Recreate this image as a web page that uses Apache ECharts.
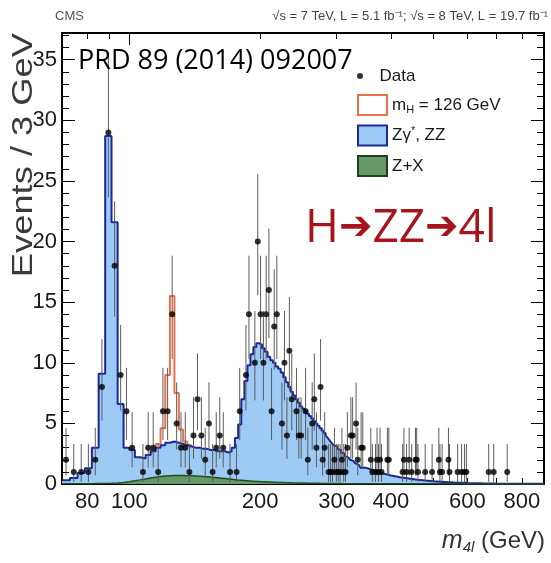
<!DOCTYPE html>
<html>
<head>
<meta charset="utf-8"/>
<title>m4l</title>
<style>
html, body { margin: 0; padding: 0; background: #fff; }
#chart { width: 551px; height: 563px; }
</style>
</head>
<body>
<div id="chart"></div>
<script src="https://cdn.jsdelivr.net/npm/echarts@6/dist/echarts.min.js"></script>
<script>
// 3 GeV bins starting at 70 GeV
var binStart = 70, binWidth = 3;
var xLow = 70, xHigh = 900;

// blue line: Zgamma*, ZZ (+ Z+X) per 3 GeV bin, 70-340 GeV
var zzTop = [
  0.3, 0.5, 0.9, 1.3, 3.0, 9.1, 28.7, 21.6, 6.6, 3.0,
  2.8, 2.2, 2.1, 2.4, 2.7, 3.0, 3.2, 3.4, 3.5, 3.4,
  3.3, 3.2, 3.1, 3.0, 3.0, 2.9, 2.9, 2.8, 2.8, 2.7,
  2.7, 2.7, 2.6, 2.7, 3.0, 3.8, 4.9, 7.0, 8.5, 9.8,
  10.7, 11.3, 11.6, 11.5, 11.2, 10.9, 10.5, 10.2, 10.0, 9.7,
  9.5, 9.2, 8.8, 8.4, 8.0, 7.6, 7.3, 7.0, 6.7, 6.4,
  6.2, 6.0, 5.8, 5.6, 5.4, 5.2, 5.0, 4.8, 4.6, 4.4,
  4.2, 4.0, 3.8, 3.6, 3.4, 3.2, 3.1, 2.9, 2.8, 2.6,
  2.5, 2.3, 2.2, 2.1, 2.0, 1.9, 1.8, 1.7, 1.6, 1.5
];
// tail above 340 GeV, read in coarser steps
var tailEdge = [340, 350, 360, 370, 380, 390, 400, 420, 440, 460, 480, 500, 530, 560, 600, 650, 700, 800];
var zzTail = [1.35, 1.2, 1.05, 0.9, 0.8, 0.7, 0.55, 0.45, 0.35, 0.28, 0.22, 0.17, 0.12, 0.09, 0.06, 0.04, 0.03, 0.02];

// green: Z+X
var zxTop = [
  0.02, 0.02, 0.03, 0.03, 0.04, 0.05, 0.06, 0.08, 0.12, 0.18,
  0.26, 0.34, 0.42, 0.5, 0.56, 0.61, 0.65, 0.68, 0.7, 0.7,
  0.7, 0.69, 0.68, 0.66, 0.64, 0.62, 0.6, 0.57, 0.54, 0.51,
  0.48, 0.45, 0.42, 0.39, 0.36, 0.33, 0.31, 0.29, 0.27, 0.25,
  0.23, 0.21, 0.2, 0.19, 0.18, 0.17, 0.16, 0.15, 0.14, 0.13,
  0.12, 0.12, 0.11, 0.11, 0.1, 0.1, 0.09, 0.09, 0.08, 0.08,
  0.08, 0.07, 0.07, 0.07, 0.06, 0.06, 0.06, 0.06, 0.05, 0.05,
  0.05, 0.05, 0.05, 0.04, 0.04, 0.04, 0.04, 0.04, 0.04, 0.03,
  0.03, 0.03, 0.03, 0.03, 0.03, 0.03, 0.03, 0.02, 0.02, 0.02
];
var zxTail = [0.02, 0.02, 0.02, 0.02, 0.02, 0.02, 0.02, 0.02, 0.02, 0.02, 0.02, 0.02, 0.02, 0.01, 0.01, 0.01, 0.01, 0.01];

// red: mH = 126 GeV on top of background, bins 13..23
var sigFirstBin = 13;
var sigTop = [2.4, 2.8, 3.3, 4.6, 9.0, 15.5, 7.5, 4.5, 3.5, 3.2, 3.0];

// data: bin centre (GeV) and events
var dataMass = [
  71.5, 74.5, 77.5, 80.5, 83.5, 86.5, 89.5, 92.5, 95.5, 98.5,
  101.5, 107.5, 110.5, 113.5, 116.5, 119.5, 122.5, 125.5, 128.5, 131.5,
  134.5, 137.5, 140.5, 143.5, 146.5, 149.5, 152.5, 155.5, 158.5, 161.5,
  164.5, 170.5, 176.5, 179.5, 185.5, 188.5, 194.5, 197.5, 200.5, 203.5,
  206.5, 209.5, 212.5, 215.5, 218.5, 224.5, 227.5, 230.5, 233.5, 236.5,
  242.5, 245.5, 248.5, 254.5, 257.5, 263.5, 266.5, 269.5, 275.5, 278.5,
  281.5, 287.5, 290.5, 293.5, 296.5, 299.5, 302.5, 305.5, 308.5, 311.5,
  314.5, 317.5, 323.5, 326.5, 332.5, 335.5, 341.5, 344.5, 359.5, 362.5,
  368.5, 371.5, 374.5, 377.5, 380.5, 392.5, 395.5, 425.5, 428.5, 434.5,
  440.5, 446.5, 455.5, 458.5, 461.5, 479.5, 497.5, 515.5, 518.5, 524.5,
  542.5, 545.5, 569.5, 581.5, 590.5, 596.5, 671.5, 689.5, 740.5
];
var dataN = [
  2, 1, 1, 1, 2, 8, 29, 18, 9, 6,
  3, 1, 3, 3, 1, 6, 6, 14, 5, 3,
  3, 1, 4, 7, 4, 2, 5, 1, 3, 4,
  3, 1, 1, 6, 9, 14, 10, 20, 14, 10,
  14, 16, 6, 13, 14, 5, 10, 4, 11, 7,
  6, 4, 4, 6, 2, 5, 7, 3, 8, 2,
  3, 1, 1, 1, 2, 1, 1, 1, 2, 1,
  1, 3, 4, 4, 5, 2, 3, 3, 2, 1,
  1, 2, 1, 2, 1, 2, 2, 1, 2, 1,
  2, 1, 2, 2, 1, 1, 1, 2, 1, 1,
  2, 1, 1, 1, 1, 1, 1, 1, 1
];

// 68% Poisson intervals, index = number of events
var poisLo = [0, 0.17, 0.71, 1.37, 2.09, 2.84, 3.62, 4.42, 5.23, 6.06, 6.89, 7.73, 8.58, 9.44, 10.3, 11.17,
  12.04, 12.92, 13.8, 14.68, 15.57, 16.45, 17.35, 18.24, 19.14, 20.03, 20.93, 21.84, 22.74, 23.65];
var poisHi = [1.84, 3.3, 4.64, 5.92, 7.16, 8.38, 9.58, 10.77, 11.95, 13.11, 14.27, 15.42, 16.56, 17.7, 18.83, 19.96,
  21.08, 22.2, 23.32, 24.44, 25.55, 26.66, 27.76, 28.87, 29.97, 31.07, 32.16, 33.26, 34.35, 35.45];

var xLabelVals = [80, 100, 200, 300, 400, 600, 800];
var xMinorVals = [80, 90, 200, 300, 400, 500, 600, 700, 800, 900];
var xMajorVals = [100];
var yLabelVals = [0, 5, 10, 15, 20, 25, 30, 35];
var yMinorVals = [];
for (var k = 0; k <= 37; k++) yMinorVals.push(k);

var narrow = "'Liberation Sans Narrow', 'Arial Narrow', 'Liberation Sans', sans-serif";

function lg(v) { return Math.log10(v); }

function histPoints(vals, first, tEdge, tVals) {
  var pts = [];
  for (var i = 0; i < vals.length; i++) {
    pts.push([lg(binStart + binWidth * (first + i)), vals[i]]);
  }
  var last = vals[vals.length - 1];
  var end = binStart + binWidth * (first + vals.length);
  if (tEdge) {
    for (var j = 0; j < tEdge.length; j++) pts.push([lg(tEdge[j]), tVals[j]]);
    last = tVals[tVals.length - 1];
    end = xHigh;
  }
  pts.push([lg(end), last]);
  return pts;
}

var points = [], bars = [];
for (var d = 0; d < dataMass.length; d++) {
  points.push([lg(dataMass[d]), dataN[d]]);
  bars.push([lg(dataMass[d]), poisLo[dataN[d]], poisHi[dataN[d]]]);
}

function xAxisDef(pos, ticks, len, withLine, withLabels) {
  return {
    type: 'value', position: pos, min: lg(xLow), max: lg(xHigh),
    axisLine: { show: withLine, onZero: false, lineStyle: { color: '#000', width: 2 } },
    axisTick: { show: true, inside: true, length: len, customValues: ticks.map(lg), lineStyle: { color: '#000', width: 1 } },
    axisLabel: {
      show: withLabels, customValues: xLabelVals.map(lg), margin: 7,
      color: '#1a1a1a', fontSize: 22, fontFamily: narrow,
      formatter: function (v) { return Math.round(Math.pow(10, v)); }
    },
    splitLine: { show: false }
  };
}
function yAxisDef(pos, ticks, len, withLine, withLabels) {
  return {
    type: 'value', position: pos, min: 0, max: 37.2,
    axisLine: { show: withLine, onZero: false, lineStyle: { color: '#000', width: 2 } },
    axisTick: { show: true, inside: true, length: len, customValues: ticks, lineStyle: { color: '#000', width: 1 } },
    axisLabel: { show: withLabels, customValues: yLabelVals, margin: 5, color: '#1a1a1a', fontSize: 22, fontFamily: narrow },
    splitLine: { show: false }
  };
}

var myChart = echarts.init(document.getElementById('chart'));

var option = {
  animation: false,
  backgroundColor: '#fff',
  grid: { left: 62, right: 7, top: 33, bottom: 79 },
  xAxis: [
    xAxisDef('bottom', xMinorVals, 6, true, true),
    xAxisDef('bottom', xMajorVals, 12, false, false),
    xAxisDef('top', xMinorVals, 6, true, false),
    xAxisDef('top', xMajorVals, 12, false, false)
  ],
  yAxis: [
    yAxisDef('left', yLabelVals, 13, true, true),
    yAxisDef('left', yMinorVals, 7, false, false),
    yAxisDef('right', yLabelVals, 13, true, false),
    yAxisDef('right', yMinorVals, 7, false, false)
  ],
  legend: [
    {
      data: [{ name: 'Data', icon: 'circle' }],
      left: 352, top: 61, orient: 'vertical', itemWidth: 29, itemHeight: 6,
      selectedMode: false, itemStyle: { color: '#000', borderWidth: 0 },
      textStyle: { fontSize: 17, lineHeight: 20, color: '#1a1a1a', fontFamily: 'Liberation Sans' }
    },
    {
      data: [
        { name: 'mH', icon: 'rect', itemStyle: { color: '#fff', borderColor: '#e8704a', borderWidth: 2 } },
        { name: 'ZZ', icon: 'rect', itemStyle: { color: '#9ecbf5', borderColor: '#1c2899', borderWidth: 2 } },
        { name: 'ZX', icon: 'rect', itemStyle: { color: '#669966', borderColor: '#1f3f1f', borderWidth: 2 } }
      ],
      left: 352, top: 89, orient: 'vertical', itemWidth: 29, itemHeight: 20, itemGap: 8.5,
      selectedMode: false,
      formatter: function (name) {
        if (name === 'mH') return 'm{sub|H} = 126 GeV';
        if (name === 'ZZ') return 'Z\u03b3{sup|*}, ZZ';
        return 'Z+X';
      },
      textStyle: {
        fontSize: 17, lineHeight: 20, color: '#1a1a1a', fontFamily: 'Liberation Sans',
        rich: {
          sub: { fontSize: 11, lineHeight: 10, verticalAlign: 'bottom', fontFamily: 'Liberation Sans' },
          sup: { fontSize: 11, lineHeight: 10, verticalAlign: 'top', fontFamily: 'Liberation Sans' }
        }
      }
    }
  ],
  graphic: [
    { type: 'text', left: 55, top: 10, style: { text: 'CMS', fill: '#555', font: "13px 'Liberation Sans Narrow', 'Liberation Sans'" } },
    { type: 'text', right: 3, top: 10, style: { text: '\u221as = 7 TeV, L = 5.1 fb\u207b\u00b9; \u221as = 8 TeV, L = 19.7 fb\u207b\u00b9', fill: '#444', font: "13px 'Liberation Sans Narrow', 'Liberation Sans'" } },
    { type: 'text', x: 78, y: 61, z: 10, style: { text: 'PRD 89 (2014) 092007', fill: '#000', font: "27px 'Open Sans'", verticalAlign: 'middle' } },
    {
      type: 'text', x: 305, y: 229, z: 10,
      style: {
        text: 'H{a|\u2794}ZZ{a|\u2794}4l', fill: '#a8141c', font: "46px 'Open Sans'", verticalAlign: 'middle',
        rich: { a: { font: "40px 'DejaVu Sans'", fill: '#a8141c', verticalAlign: 'middle', lineHeight: 46 } }
      }
    },
    { type: 'text', x: 24, y: 33, rotation: Math.PI / 2, scaleX: 1.21, style: { text: 'Events / 3 GeV', fill: '#3a3a3a', font: "30px 'Liberation Sans'", align: 'right', verticalAlign: 'middle' } },
    {
      type: 'text', x: 545, y: 541,
      style: {
        text: '{i|m}{s|4l}{n| (GeV)}', align: 'right', verticalAlign: 'middle',
        rich: {
          i: { font: "italic 25px 'Liberation Sans'", fill: '#333', lineHeight: 28, verticalAlign: 'middle' },
          s: { font: "italic 15px 'Liberation Sans'", fill: '#333', lineHeight: 12, verticalAlign: 'bottom' },
          n: { font: "24px 'Liberation Sans Narrow', 'Liberation Sans'", fill: '#333', lineHeight: 28, verticalAlign: 'middle' }
        }
      }
    }
  ],
  series: [
    {
      name: 'mH', type: 'line', step: 'end', symbol: 'none', z: 1, silent: true,
      data: histPoints(sigTop, sigFirstBin),
      lineStyle: { color: '#e8704a', width: 2 }, itemStyle: { color: '#e8704a' }
    },
    {
      name: 'ZZ', type: 'line', step: 'end', symbol: 'none', z: 2, silent: true,
      data: histPoints(zzTop, 0, tailEdge, zzTail),
      lineStyle: { color: '#1c2899', width: 2 }, itemStyle: { color: '#1c2899' },
      areaStyle: { color: '#9ecbf5', opacity: 1 }
    },
    {
      name: 'ZX', type: 'line', step: 'end', symbol: 'none', z: 3, silent: true,
      data: histPoints(zxTop, 0, tailEdge, zxTail),
      lineStyle: { color: '#1f4f1f', width: 1.5 }, itemStyle: { color: '#1f4f1f' },
      areaStyle: { color: '#669966', opacity: 1 }
    },
    {
      name: 'errors', type: 'custom', z: 4, silent: true, clip: true,
      data: bars, encode: { x: 0, y: [1, 2] },
      renderItem: function (params, api) {
        var x = api.value(0);
        var p1 = api.coord([x, api.value(1)]);
        var p2 = api.coord([x, api.value(2)]);
        return { type: 'line', shape: { x1: p1[0], y1: p1[1], x2: p2[0], y2: p2[1] }, style: { stroke: '#5c5c5c', lineWidth: 1 } };
      }
    },
    {
      name: 'Data', type: 'scatter', z: 5, silent: true,
      data: points, symbol: 'circle', symbolSize: 6,
      itemStyle: { color: '#000' }
    }
  ]
};

myChart.setOption(option);
</script>
</body>
</html>
